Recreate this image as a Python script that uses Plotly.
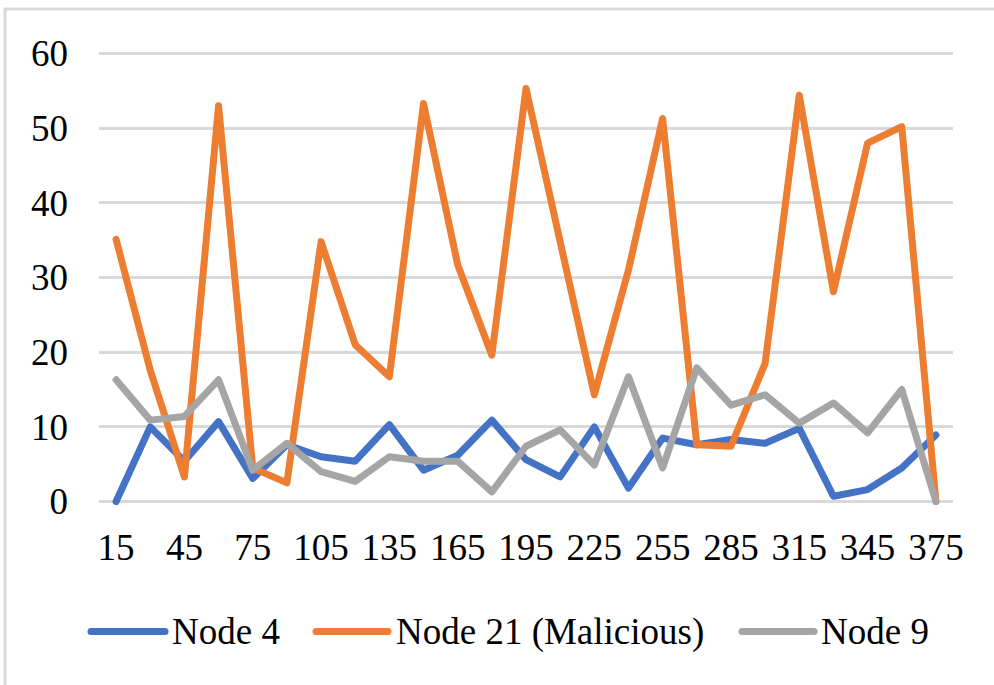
import plotly.graph_objects as go

x_vals = [15, 30, 45, 60, 75, 90, 105, 120, 135, 150, 165, 180, 195, 210, 225,
          240, 255, 270, 285, 300, 315, 330, 345, 360, 375]
node4 = [0, 10.0, 5.4, 10.7, 3.1, 7.6, 6.0, 5.4, 10.3, 4.2, 6.2, 10.9, 5.6, 3.3, 10.0,
         1.8, 8.5, 7.6, 8.3, 7.8, 9.8, 0.7, 1.6, 4.5, 8.9]
node21 = [35.1, 17.6, 3.3, 53.0, 4.5, 2.5, 34.8, 21.0, 16.7, 53.3, 31.7, 19.6, 55.3, 35.0, 14.3,
          31.0, 51.3, 7.6, 7.4, 18.5, 54.4, 28.1, 48.0, 50.2, 0]
node9 = [16.3, 10.9, 11.4, 16.3, 4.2, 7.8, 4.0, 2.7, 6.0, 5.4, 5.4, 1.3, 7.4, 9.6, 4.9,
         16.7, 4.5, 17.9, 12.9, 14.3, 10.5, 13.2, 9.2, 15.0, 0]
x_ticks = [15, 45, 75, 105, 135, 165, 195, 225, 255, 285, 315, 345, 375]
y_ticks = [0, 10, 20, 30, 40, 50, 60]

series = [("Node 4", node4, "#4472C4"),
          ("Node 21 (Malicious)", node21, "#ED7D31"),
          ("Node 9", node9, "#A5A5A5")]

FONT = "Liberation Serif, Times New Roman, serif"
LW = 7
fig = go.Figure()
for name, vals, col in series:
    fig.add_trace(go.Scatter(x=x_vals, y=vals, mode="lines", name=name,
                             line=dict(color=col, width=LW),
                             showlegend=False))

# plot area in pixels: left 99, right 953, top 46, bottom 509
L, R, T, B = 99, 953, 46, 509
W, H = R - L, B - T
def px(xp):
    return (xp - L) / W
def py(yp):
    return (B - yp) / H

shapes = [dict(type="rect", xref="paper", yref="paper",
               x0=px(5), x1=1.2, y0=-0.6, y1=py(9),
               line=dict(color="#D9D9D9", width=3), fillcolor="rgba(0,0,0,0)", layer="below")]
annotations = []
legend_items = [(88, 168, 173), (313, 391, 397), (739, 817, 822)]
ly = 631.5
for (name, vals, col), (a, b, tx) in zip(series, legend_items):
    shapes.append(dict(type="line", xref="paper", yref="paper",
                       x0=px(a + 3), x1=px(b - 3), y0=py(ly), y1=py(ly),
                       line=dict(color=col, width=LW)))
    annotations.append(dict(x=px(tx - 3), y=py(ly), xref="paper", yref="paper",
                            text=name, showarrow=False, xanchor="left", yanchor="middle",
                            font=dict(family=FONT, size=37, color="#000000")))

fig.update_layout(
    width=994, height=685,
    margin=dict(l=L, r=994 - R, t=T, b=685 - B),
    paper_bgcolor="white", plot_bgcolor="white",
    font=dict(family=FONT, size=37, color="#000000"),
    shapes=shapes, annotations=annotations,
    xaxis=dict(range=[7.5, 382.5], tickvals=x_ticks, showgrid=False, zeroline=False,
               showline=False, ticks="", ticklabelstandoff=13,
               tickfont=dict(family=FONT, size=37, color="#000000")),
    yaxis=dict(range=[-1, 61], tickvals=y_ticks, showgrid=True, gridcolor="#D9D9D9",
               gridwidth=2.5, zeroline=False, showline=False, ticks="",
               ticklabelstandoff=30,
               tickfont=dict(family=FONT, size=37, color="#000000")),
)

round_js = """
function roundJoins() {
  document.querySelectorAll('.scatterlayer path.js-line, .shapelayer path').forEach(function (p) {
    p.style.strokeLinejoin = 'round';
    p.style.strokeLinecap = 'round';
  });
}
roundJoins();
var gd = document.getElementById('{plot_id}');
if (gd && gd.on) { gd.on('plotly_afterplot', roundJoins); }
"""
fig.write_html("out.html", post_script=round_js)
